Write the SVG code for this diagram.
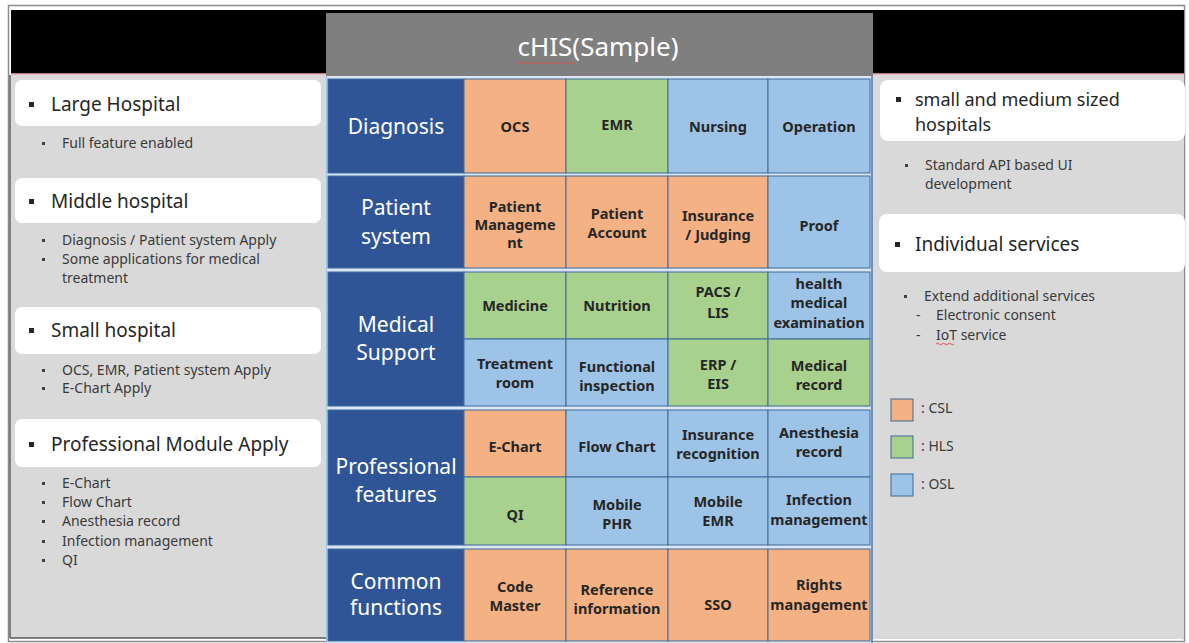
<svg xmlns="http://www.w3.org/2000/svg" width="1189" height="643" viewBox="0 0 1189 643">
<style>
.panel{fill:#d9d9d9}
.wbox{fill:#ffffff}
.h1{font-family:"Noto Sans","Liberation Sans",sans-serif;font-size:19px;fill:#262626}
.h1r{font-family:"Noto Sans","Liberation Sans",sans-serif;font-size:18px;fill:#262626}
.sub{font-family:"Noto Sans","Liberation Sans",sans-serif;font-size:14px;fill:#3a3a3a}
.bul{fill:#262626}
.dot{fill:#404040}
.cat{fill:#2f5597;stroke:#3d6aa0;stroke-width:1}
.catt{font-family:"Noto Sans","Liberation Sans",sans-serif;font-size:21px;fill:#ffffff;text-anchor:middle}
.o{fill:#f4b183;stroke:#3e6a9a;stroke-width:1}
.g{fill:#a9d18e;stroke:#3e6a9a;stroke-width:1}
.b{fill:#9dc3e6;stroke:#3e6a9a;stroke-width:1}
.ct{font-family:"Noto Sans","Liberation Sans",sans-serif;font-size:14.5px;font-weight:bold;fill:#262626;text-anchor:middle}
.lg{font-family:"Noto Sans","Liberation Sans",sans-serif;font-size:14px;fill:#3a3a3a}
</style>
<rect x="0" y="0" width="1189" height="643" fill="#ffffff"/>
<rect x="8.5" y="5.5" width="1176" height="636" fill="none" stroke="#8c8c8c" stroke-width="1.5"/>
<!-- top bars -->
<rect x="11" y="10" width="1173" height="64" fill="#000000"/>
<line x1="11" y1="74" x2="326" y2="74" stroke="#e8a6a6" stroke-width="1.5"/>
<line x1="873" y1="74" x2="1184" y2="74" stroke="#e8a6a6" stroke-width="1.5"/>
<!-- side panels -->
<rect class="panel" x="11" y="75" width="315" height="563"/>
<line x1="10" y1="75" x2="10" y2="638" stroke="#595959" stroke-width="1.5"/>
<line x1="10" y1="638" x2="326" y2="638" stroke="#595959" stroke-width="1.5"/>
<rect class="panel" x="873" y="75" width="311" height="564"/>
<!-- header -->
<g id="header">
<rect x="326" y="13" width="547" height="63" fill="#7f7f7f"/>
<text x="598" y="56" font-family="Noto Sans, Liberation Sans, sans-serif" font-size="26" fill="#ffffff" text-anchor="middle">cHIS(Sample)</text>
<path d="M515 63 q2 -2 4 0 t4 0 t4 0 t4 0 t4 0 t4 0 t4 0 t4 0 t4 0 t4 0 t4 0 t4 0 t4 0 t4 0 t4 0" fill="none" stroke="#d9534f" stroke-width="1"/>
</g>
<!-- grid background -->
<rect x="326" y="76" width="547" height="567" fill="#dce6f2"/>
<line x1="326.5" y1="76" x2="326.5" y2="643" stroke="#9dc3e6" stroke-width="1"/>
<line x1="872" y1="76" x2="872" y2="643" stroke="#4a74a8" stroke-width="1.5"/>

<!-- left panel -->
<g id="large-hospital">
<rect class="wbox" x="15" y="80" width="306" height="46" rx="7"/>
<rect class="bul" x="29" y="102" width="5" height="5"/>
<text class="h1" x="51" y="111">Large Hospital</text>
<rect class="dot" x="42" y="142" width="3" height="3"/>
<text class="sub" x="62" y="148">Full feature enabled</text>
</g>
<g id="middle-hospital">
<rect class="wbox" x="15" y="178" width="306" height="45" rx="7"/>
<rect class="bul" x="29" y="199" width="5" height="5"/>
<text class="h1" x="51" y="208">Middle hospital</text>
<rect class="dot" x="42" y="239" width="3" height="3"/>
<text class="sub" x="62" y="245">Diagnosis / Patient system Apply</text>
<rect class="dot" x="42" y="258" width="3" height="3"/>
<text class="sub" x="62" y="264">Some applications for medical</text>
<text class="sub" x="62" y="283">treatment</text>
</g>
<g id="small-hospital">
<rect class="wbox" x="15" y="307" width="306" height="47" rx="7"/>
<rect class="bul" x="29" y="328" width="5" height="5"/>
<text class="h1" x="51" y="337">Small hospital</text>
<rect class="dot" x="42" y="369" width="3" height="3"/>
<text class="sub" x="62" y="375">OCS, EMR, Patient system Apply</text>
<rect class="dot" x="42" y="387" width="3" height="3"/>
<text class="sub" x="62" y="393">E-Chart Apply</text>
</g>
<g id="professional-module">
<rect class="wbox" x="15" y="419" width="306" height="48" rx="7"/>
<rect class="bul" x="29" y="442" width="5" height="5"/>
<text class="h1" x="51" y="451">Professional Module Apply</text>
<rect class="dot" x="42" y="482" width="3" height="3"/>
<text class="sub" x="62" y="488">E-Chart</text>
<rect class="dot" x="42" y="501" width="3" height="3"/>
<text class="sub" x="62" y="507">Flow Chart</text>
<rect class="dot" x="42" y="520" width="3" height="3"/>
<text class="sub" x="62" y="526">Anesthesia record</text>
<rect class="dot" x="42" y="540" width="3" height="3"/>
<text class="sub" x="62" y="546">Infection management</text>
<rect class="dot" x="42" y="559" width="3" height="3"/>
<text class="sub" x="62" y="565">QI</text>
</g>

<!-- right panel -->
<g id="small-medium-hospitals">
<rect class="wbox" x="880" y="80" width="305" height="61" rx="8"/>
<rect class="bul" x="896" y="97" width="5" height="5"/>
<text class="h1r" x="915" y="106">small and medium sized</text>
<text class="h1r" x="915" y="131">hospitals</text>
<rect class="dot" x="905" y="164" width="3" height="3"/>
<text class="sub" x="925" y="170">Standard API based UI</text>
<text class="sub" x="925" y="189">development</text>
</g>
<g id="individual-services">
<rect class="wbox" x="879" y="214" width="306" height="58" rx="8"/>
<rect class="bul" x="895" y="242" width="5" height="5"/>
<text class="h1" x="915" y="251">Individual services</text>
<rect class="dot" x="904" y="295" width="3" height="3"/>
<text class="sub" x="924" y="301">Extend additional services</text>
<text class="sub" x="916" y="320">-</text>
<text class="sub" x="936" y="320">Electronic consent</text>
<text class="sub" x="916" y="340">-</text>
<text class="sub" x="936" y="340">IoT service</text>
<path d="M936 344 q1.5 -1.5 3 0 t3 0 t3 0 t3 0 t3 0 t3 0" fill="none" stroke="#d9534f" stroke-width="1"/>
</g>
<g id="legend">
<rect class="o" x="891" y="399" width="22" height="22"/>
<text class="lg" x="921" y="413">: CSL</text>
<rect class="g" x="891" y="436" width="22" height="22"/>
<text class="lg" x="921" y="451">: HLS</text>
<rect class="b" x="891" y="474" width="22" height="22"/>
<text class="lg" x="921" y="489">: OSL</text>
</g>

<!-- grid: Diagnosis -->
<g id="cat-diagnosis"><rect class="cat" x="328" y="79" width="136" height="94"/><text class="catt" x="396" y="134">Diagnosis</text></g>
<g id="ocs"><rect class="o" x="464" y="79" width="102" height="94"/><text class="ct" x="515" y="132">OCS</text></g>
<g id="emr"><rect class="g" x="566" y="79" width="102" height="94"/><text class="ct" x="617" y="130">EMR</text></g>
<g id="nursing"><rect class="b" x="668" y="79" width="100" height="94"/><text class="ct" x="718" y="132">Nursing</text></g>
<g id="operation"><rect class="b" x="768" y="79" width="102" height="94"/><text class="ct" x="819" y="132">Operation</text></g>

<!-- Patient system -->
<g id="cat-patient"><rect class="cat" x="328" y="176" width="136" height="92"/><text class="catt" x="396" y="215">Patient</text><text class="catt" x="396" y="244">system</text></g>
<g id="patient-management"><rect class="o" x="464" y="176" width="102" height="92"/><text class="ct" x="515" y="212">Patient</text><text class="ct" x="515" y="230">Manageme</text><text class="ct" x="515" y="248">nt</text></g>
<g id="patient-account"><rect class="o" x="566" y="176" width="102" height="92"/><text class="ct" x="617" y="219">Patient</text><text class="ct" x="617" y="238">Account</text></g>
<g id="insurance-judging"><rect class="o" x="668" y="176" width="100" height="92"/><text class="ct" x="718" y="221">Insurance</text><text class="ct" x="718" y="240">/ Judging</text></g>
<g id="proof"><rect class="b" x="768" y="176" width="102" height="92"/><text class="ct" x="819" y="231">Proof</text></g>

<!-- Medical Support -->
<g id="cat-medical"><rect class="cat" x="328" y="272" width="136" height="134"/><text class="catt" x="396" y="332">Medical</text><text class="catt" x="396" y="360">Support</text></g>
<g id="medicine"><rect class="g" x="464" y="272" width="102" height="67"/><text class="ct" x="515" y="311">Medicine</text></g>
<g id="nutrition"><rect class="g" x="566" y="272" width="102" height="67"/><text class="ct" x="617" y="311">Nutrition</text></g>
<g id="pacs-lis"><rect class="g" x="668" y="272" width="100" height="67"/><text class="ct" x="718" y="297">PACS /</text><text class="ct" x="718" y="318">LIS</text></g>
<g id="health-exam"><rect class="b" x="768" y="272" width="102" height="67"/><text class="ct" x="819" y="289">health</text><text class="ct" x="819" y="308">medical</text><text class="ct" x="819" y="328">examination</text></g>
<g id="treatment-room"><rect class="b" x="464" y="339" width="102" height="67"/><text class="ct" x="515" y="369">Treatment</text><text class="ct" x="515" y="388">room</text></g>
<g id="functional-inspection"><rect class="b" x="566" y="339" width="102" height="67"/><text class="ct" x="617" y="372">Functional</text><text class="ct" x="617" y="391">inspection</text></g>
<g id="erp-eis"><rect class="g" x="668" y="339" width="100" height="67"/><text class="ct" x="718" y="370">ERP /</text><text class="ct" x="718" y="389">EIS</text></g>
<g id="medical-record"><rect class="g" x="768" y="339" width="102" height="67"/><text class="ct" x="819" y="371">Medical</text><text class="ct" x="819" y="390">record</text></g>

<!-- Professional features -->
<g id="cat-professional"><rect class="cat" x="328" y="410" width="136" height="135"/><text class="catt" x="396" y="474">Professional</text><text class="catt" x="396" y="502">features</text></g>
<g id="e-chart"><rect class="o" x="464" y="410" width="102" height="67"/><text class="ct" x="515" y="452">E-Chart</text></g>
<g id="flow-chart"><rect class="b" x="566" y="410" width="102" height="67"/><text class="ct" x="617" y="452">Flow Chart</text></g>
<g id="insurance-recognition"><rect class="b" x="668" y="410" width="100" height="67"/><text class="ct" x="718" y="440">Insurance</text><text class="ct" x="718" y="459">recognition</text></g>
<g id="anesthesia-record"><rect class="b" x="768" y="410" width="102" height="67"/><text class="ct" x="819" y="438">Anesthesia</text><text class="ct" x="819" y="457">record</text></g>
<g id="qi"><rect class="g" x="464" y="477" width="102" height="68"/><text class="ct" x="515" y="520">QI</text></g>
<g id="mobile-phr"><rect class="b" x="566" y="477" width="102" height="68"/><text class="ct" x="617" y="510">Mobile</text><text class="ct" x="617" y="529">PHR</text></g>
<g id="mobile-emr"><rect class="b" x="668" y="477" width="100" height="68"/><text class="ct" x="718" y="507">Mobile</text><text class="ct" x="718" y="526">EMR</text></g>
<g id="infection-management"><rect class="b" x="768" y="477" width="102" height="68"/><text class="ct" x="819" y="505">Infection</text><text class="ct" x="819" y="525">management</text></g>

<!-- Common functions -->
<g id="cat-common"><rect class="cat" x="328" y="549" width="136" height="92"/><text class="catt" x="396" y="589">Common</text><text class="catt" x="396" y="615">functions</text></g>
<g id="code-master"><rect class="o" x="464" y="549" width="102" height="92"/><text class="ct" x="515" y="592">Code</text><text class="ct" x="515" y="611">Master</text></g>
<g id="reference-information"><rect class="o" x="566" y="549" width="102" height="92"/><text class="ct" x="617" y="595">Reference</text><text class="ct" x="617" y="614">information</text></g>
<g id="sso"><rect class="o" x="668" y="549" width="100" height="92"/><text class="ct" x="718" y="610">SSO</text></g>
<g id="rights-management"><rect class="o" x="768" y="549" width="102" height="92"/><text class="ct" x="819" y="590">Rights</text><text class="ct" x="819" y="610">management</text></g>

<g id="connectors"></g>
</svg>
